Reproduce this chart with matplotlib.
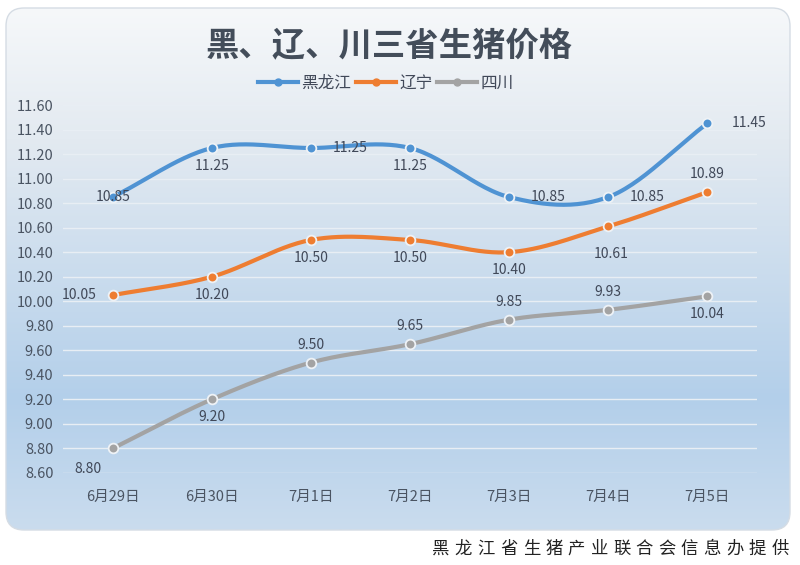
import matplotlib.pyplot as plt
import numpy as np
from matplotlib.patches import FancyBboxPatch
from matplotlib.colors import LinearSegmentedColormap

plt.rcParams['font.family'] = ['Noto Sans CJK SC', 'DejaVu Sans']

# data
dates = ["6月29日", "6月30日", "7月1日", "7月2日", "7月3日", "7月4日", "7月5日"]
hlj = [10.85, 11.25, 11.25, 11.25, 10.85, 10.85, 11.45]
ln = [10.05, 10.20, 10.50, 10.50, 10.40, 10.61, 10.89]
sc = [8.80, 9.20, 9.50, 9.65, 9.85, 9.93, 10.04]
yticks = np.arange(8.6, 11.61, 0.2)

# label offsets (points)
hlj_off = [(0, 0), (0, -13), (28, 0), (0, -13), (28, 0), (28, 0), (30, 0)]
ln_off = [(-24, 0), (0, -13), (0, -13), (0, -13), (0, -13), (2, -20), (0, 13)]
sc_off = [(-18, -15), (0, -13), (0, 13), (0, 13), (0, 13), (0, 13), (0, -13)]


def smooth(x, y, n=30):
    # catmull-rom between points
    x = np.asarray(x, float); y = np.asarray(y, float)
    px = np.concatenate([[2*x[0]-x[1]], x, [2*x[-1]-x[-2]]])
    py = np.concatenate([[2*y[0]-y[1]], y, [2*y[-1]-y[-2]]])
    xs, ys = [], []
    t = np.linspace(0, 1, n)
    for i in range(1, len(px)-2):
        for arr, out in ((px, xs), (py, ys)):
            p0, p1, p2, p3 = arr[i-1], arr[i], arr[i+1], arr[i+2]
            out.extend(0.5*((2*p1) + (-p0+p2)*t + (2*p0-5*p1+4*p2-p3)*t**2
                            + (-p0+3*p1-3*p2+p3)*t**3))
    return np.array(xs), np.array(ys)


fig = plt.figure(figsize=(8, 5.65), dpi=100)

# background panel with gradient
bg = fig.add_axes([0, 0, 1, 1])
bg.set_xlim(0, 800); bg.set_ylim(565, 0); bg.axis("off")
cmap = LinearSegmentedColormap.from_list("g", [(0, "#f6f8fa"), (0.25, "#e3eaf1"),
                                               (0.75, "#b3cfea"), (1, "#cadcee")])
grad = np.linspace(0, 1, 256).reshape(-1, 1)
im = bg.imshow(grad, cmap=cmap, aspect="auto", extent=(6, 790, 530, 8))
panel = FancyBboxPatch((6, 8), 784, 522, boxstyle="round,pad=0,rounding_size=18",
                       facecolor="none", edgecolor="#d5dce4", lw=1)
bg.add_patch(panel)
im.set_clip_path(panel)

ax = fig.add_axes([0.079, 0.163, 0.867, 0.651])
ax.patch.set_alpha(0)
x = np.arange(len(dates))
series = [(hlj, "#4f93d3", "黑龙江", hlj_off), (ln, "#ee7d31", "辽宁", ln_off),
          (sc, "#a3a3a3", "四川", sc_off)]
for vals, col, name, offs in series:
    sx, sy = smooth(x, vals)
    ax.plot(sx, sy, color=col, lw=3, solid_capstyle="round")
    ax.plot(x, vals, "o", color=col, ms=7, mec="#eef2f6", mew=1.3)
    ax.plot([], [], "-o", color=col, lw=3, ms=5, label=name)
    for xi, v, (dx, dy) in zip(x, vals, offs):
        ax.annotate(f"{v:.2f}", (xi, v), xytext=(dx, dy), textcoords="offset points",
                    ha="center", va="center", fontsize=10, color="#404858")

ax.set_xlim(-0.5, len(dates)-0.5)
ax.set_ylim(8.6, 11.6)
ax.set_yticks(yticks)
ax.set_yticklabels([f"{v:.2f}" for v in yticks])
ax.set_xticks(x)
ax.set_xticklabels(dates)
ax.grid(axis="y", color="#e8eef4", lw=1)
ax.set_axisbelow(True)
ax.tick_params(length=0, labelsize=10.5, labelcolor="#4a5462")
ax.tick_params(axis="x", pad=12)
ax.tick_params(axis="y", pad=7)
for s in ax.spines.values():
    s.set_visible(False)

fig.text(0.487, 0.918, "黑、辽、川三省生猪价格", ha="center", va="center",
         fontsize=24, fontweight="bold", color="#434d5a")
ax.legend(loc="center", bbox_to_anchor=(0.465, 1.06), ncol=3, frameon=False,
          fontsize=12, handlelength=2.4, handletextpad=0.2, columnspacing=0.3,
          labelcolor="#404858")

footer = "黑龙江省生猪产业联合会信息办提供"
for i, ch in enumerate(footer):
    fig.text((441 + i*22.6)/800, 1-549/565, ch, ha="center", va="center",
             fontsize=12.5, color="#222222")

fig.savefig("out.png", dpi=100)
